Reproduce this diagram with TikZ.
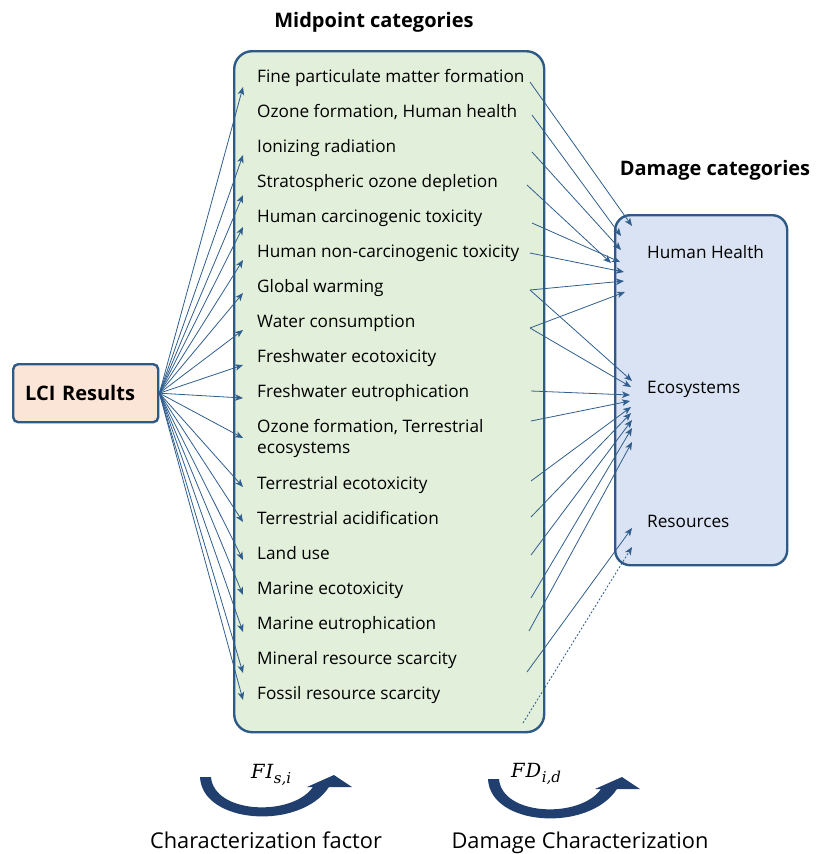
\documentclass[tikz,border=0pt]{standalone}
\usepackage{graphicx}
\usepackage{fontspec}
\setmainfont{Open Sans}
\newfontfamily\mathlike{DejaVu Serif}
\usetikzlibrary{arrows.meta}
\definecolor{bord}{HTML}{2E5A87}
\definecolor{lin}{HTML}{2F5E8E}
\definecolor{gfill}{HTML}{E2EFDA}
\definecolor{pfill}{HTML}{FBE5D6}
\definecolor{bfill}{HTML}{DAE3F3}
\definecolor{navy}{HTML}{213F6E}
\newcommand{\symlabel}[3]{{\mathlike\itshape\fontsize{19.5}{22}\selectfont #1\kern1pt #2\kern0.5pt\raisebox{-5pt}{\fontsize{15}{16}\selectfont #3}}}
\tikzset{
  box/.style={draw=bord, line width=2.4pt, inner sep=0pt, anchor=north west},
  item/.style={anchor=base west, inner sep=0pt, font=\fontsize{17.2}{21}\selectfont},
  dlabel/.style={anchor=base west, inner sep=0pt, font=\fontsize{17.2}{21}\selectfont},
  title/.style={anchor=base, inner sep=0pt, font=\fontsize{20}{24}\selectfont\bfseries},
  bottomlabel/.style={anchor=base, inner sep=0pt, font=\fontsize{21.8}{25}\selectfont},
  conn/.style={draw=lin, line width=0.8pt, -{Stealth[length=8pt,width=6.5pt,inset=2.2pt]}},
  dotconn/.style={conn, dash pattern=on 2pt off 1.8pt},
  curvearrow/.style={fill=navy},
  mathlabel/.style={anchor=base west, inner sep=0pt},
}
\begin{document}
\begin{tikzpicture}[x=1pt,y=-1pt]
\useasboundingbox (0,0) rectangle (817,854);

% boxes
\node[box, fill=gfill, rounded corners=18pt, minimum width=310pt, minimum height=681pt] (mid) at (233,50) {};
\node[box, fill=bfill, rounded corners=15pt, minimum width=172pt, minimum height=350pt] (dam) at (614,214) {};
\node[box, fill=pfill, rounded corners=5pt, minimum width=145pt, minimum height=58pt,
      text width=121pt, align=left, inner xsep=12pt, font=\fontsize{20}{24}\selectfont\bfseries] (lci) at (12,363) {LCI Results};

% titles
\node[title] (tmid) at (374,27) {Midpoint categories};
\node[title] (tdam) at (715,175) {Damage categories};

% midpoint items
\node[item] (m1) at (257,82) {Fine particulate matter formation};
\node[item] (m2) at (257,117) {Ozone formation, Human health};
\node[item] (m3) at (257,152) {Ionizing radiation};
\node[item] (m4) at (257,187) {Stratospheric ozone depletion};
\node[item] (m5) at (257,222) {Human carcinogenic toxicity};
\node[item] (m6) at (257,257) {Human non-carcinogenic toxicity};
\node[item] (m7) at (257,292) {Global warming};
\node[item] (m8) at (257,327) {Water consumption};
\node[item] (m9) at (257,362) {Freshwater ecotoxicity};
\node[item] (m10) at (257,397) {Freshwater eutrophication};
\node[item] (m11) at (257,432) {\begin{tabular}[t]{@{}l@{}}Ozone formation, Terrestrial\\ecosystems\end{tabular}};
\node[item] (m12) at (257,489) {Terrestrial ecotoxicity};
\node[item] (m13) at (257,524) {Terrestrial acidification};
\node[item] (m14) at (257,559) {Land use};
\node[item] (m15) at (257,594) {Marine ecotoxicity};
\node[item] (m16) at (257,629) {Marine eutrophication};
\node[item] (m17) at (257,664) {Mineral resource scarcity};
\node[item] (m18) at (257,699) {Fossil resource scarcity};

% damage labels
\node[dlabel] (hh) at (647,258) {Human Health};
\node[dlabel] (eco) at (647,393) {Ecosystems};
\node[dlabel] (res) at (647,527) {Resources};

% LCI -> midpoint
\foreach \n/\y in {1/87,3/155,4/195,5/227,6/260,7/293,8/330,9/365,10/398,11/438,12/487,13/522,14/560,15/595,16/632,17/673,18/700}{
  \coordinate (L\n) at (243,\y);
  \draw[conn] (lci.east) -- (L\n);
}

% midpoint -> Human Health
\foreach \n/\xa/\ya/\xb/\yb in {1/530/82/632/226, 2/532/115/621/236, 3/532/152/621/250, 4/527/185/611/263, 5/532/223/620/262, 6/530/253/624/272, 7/530/290/624/281, 8/530/328/625/292}{
  \coordinate (R\n) at (\xa,\ya);
  \coordinate (H\n) at (\xb,\yb);
  \draw[conn] (R\n) -- (H\n);
}
% midpoint -> Ecosystems
\foreach \n/\xa/\ya/\xb/\yb in {7/530/290/632/381, 8/530/328/631/387, 10/531/391/630/395, 11/531/421/630/401, 12/531/481/631/407, 13/531/517/631/413, 14/531/555/632/420, 15/531/598/632/428, 16/529/631/632/442}{
  \coordinate (S\n) at (\xa,\ya);
  \coordinate (E\n) at (\xb,\yb);
  \draw[conn] (S\n) -- (E\n);
}
% midpoint -> Resources
\coordinate (S17) at (527,672);
\coordinate (Q17) at (632,528);
\draw[conn] (S17) -- (Q17);
\coordinate (S18) at (523,723);
\coordinate (Q18) at (632,547);
\draw[dotconn] (S18) -- (Q18);

% curved arrows
\fill[curvearrow] (200,777) .. controls (202,824) and (300,831) .. (329,787) -- (352,787) -- (334,775) -- (307,787) -- (313,787) .. controls (292,817) and (214,814) .. (211,777) -- cycle;
\begin{scope}[shift={(288,2)}]
\fill[curvearrow] (200,777) .. controls (202,824) and (300,831) .. (329,787) -- (352,787) -- (334,775) -- (307,787) -- (313,787) .. controls (292,817) and (214,814) .. (211,777) -- cycle;
\end{scope}

\node[mathlabel] (fi) at (251,778) {\symlabel{F}{I}{s,i}};
\node[mathlabel] (fd) at (511,777) {\symlabel{F}{D}{i,d}};

\node[bottomlabel] (cf) at (266,848) {Characterization factor};
\node[bottomlabel] (dc) at (580,848) {Damage Characterization};
\end{tikzpicture}
\end{document}
